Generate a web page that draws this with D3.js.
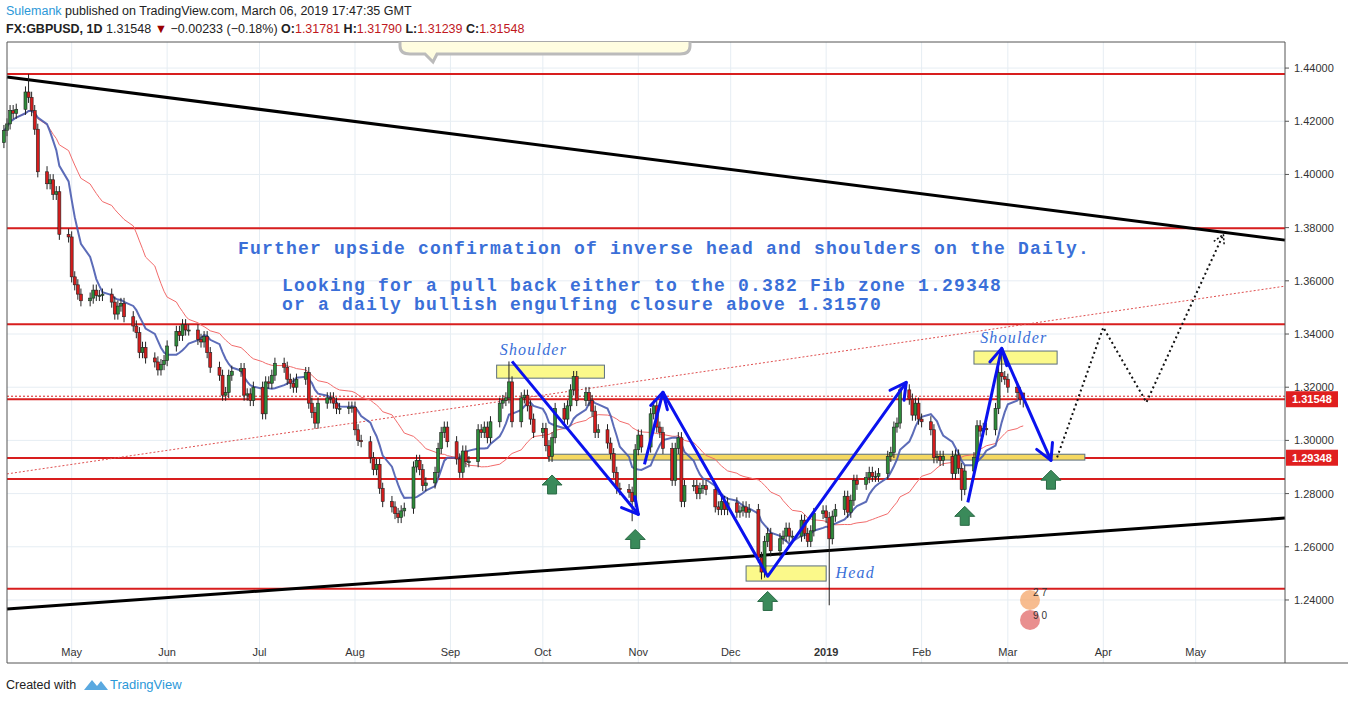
<!DOCTYPE html>
<html><head><meta charset="utf-8">
<script src="https://cdn.jsdelivr.net/npm/d3@7"></script>
<style>body{margin:0;background:#fff;font-family:"Liberation Sans",Arial,sans-serif}</style>
</head><body><svg id="c" width="1348" height="701"></svg>
<script>
// ---- data ----
const startDate = "2018-04-09";
const closes = [
1.4165,1.4190,1.4240,1.4230,1.4245, 1.4310,1.4290,1.4240,1.4170,1.4010,
1.3965,1.3980,1.3925,1.3935,1.3775, 1.3765,1.3615,1.3585,1.3550,1.3525,
1.3535,1.3565,1.3545,1.3545,1.3550, 1.3520,1.3475,1.3505,1.3515,1.3465,
1.3430,1.3405,1.3330,1.3350,1.3310, 1.3295,1.3265,1.3285,1.3300,1.3355,
1.3410,1.3395,1.3435,1.3415,1.3415, 1.3380,1.3370,1.3390,1.3330,1.3275,
1.3245,1.3170,1.3180,1.3245,1.3260, 1.3270,1.3170,1.3175,1.3150,1.3200,
1.3100,1.3220,1.3215,1.3245,1.3290, 1.3275,1.3230,1.3215,1.3200,1.3230,
1.3255,1.3140,1.3105,1.3065,1.3140, 1.3160,1.3160,1.3140,1.3120,1.3120,
1.3125,1.3125,1.3040,1.3000,1.2995, 1.2935,1.2890,1.2910,1.2820,1.2770,
1.2750,1.2725,1.2710,1.2735,1.2745, 1.2900,1.2925,1.2890,1.2830,1.2840,
1.2880,1.2970,1.3030,1.3050,1.2995, 1.2930,1.2880,1.2960,1.2920,1.2920,
1.3040,1.3030,1.3050,1.3010,1.3070, 1.3140,1.3150,1.3160,1.3220,1.3070,
1.3160,1.3170,1.3130,1.3080,1.3030, 1.3045,1.2980,1.2940,1.3010,1.3120,
1.3080,1.3130,1.3190,1.3240,1.3150, 1.3180,1.3150,1.3110,1.3030,1.3040,
1.2990,1.2950,1.2880,1.2820,1.2815, 1.2805,1.2770,1.2965,1.3020,1.2975,
1.3100,1.3130,1.3050,1.3030,1.2970, 1.2850,1.2970,1.3010,1.2770,1.2830,
1.2830,1.2800,1.2820,1.2830,1.2815, 1.2750,1.2740,1.2770,1.2740,1.2765,
1.2730,1.2735,1.2750,1.2730,1.2740, 1.2560,1.2505,1.2620,1.2650,1.2585,
1.2630,1.2640,1.2670,1.2640,1.2640, 1.2700,1.2650,1.2620,1.2660,1.2725,
1.2735,1.2710,1.2630,1.2715,1.2740, 1.2790,1.2730,1.2775,1.2850,1.2835,
1.2860,1.2880,1.2865,1.2865,1.2875, 1.2940,1.2955,1.3050,1.3065,1.3190,
1.3155,1.3095,1.3140,1.3080,1.3070, 1.3040,1.2935,1.2940,1.2925,1.2940,
1.2875,1.2945,1.2895,1.2815,1.2885, 1.2935,1.3055,1.3035,1.3045,1.3040,
1.3120,1.3255,1.3240,1.3230,1.3200, 1.3180,1.3155,1.31548];
const firstOpen = 1.4120;
const wickSize = 0.0035;
const extremes = {"2018-04-17":[1.4377,null],"2018-09-20":[1.3297,null],"2019-01-02":[null,1.2380],
  "2018-12-11":[null,1.2477],"2019-02-27":[1.3350,null],"2018-10-30":[null,1.2696],"2019-02-14":[null,1.2773]};
const hLevels = [1.4378,1.3798,1.3437,1.3155,1.2934,1.2855,1.2442];
const yTicks = [1.44,1.42,1.40,1.38,1.36,1.34,1.32,1.30,1.28,1.26,1.24];
const monthTicks = [["2018-05-01","May"],["2018-06-01","Jun"],["2018-07-01","Jul"],["2018-08-01","Aug"],["2018-09-01","Sep"],["2018-10-01","Oct"],["2018-11-01","Nov"],["2018-12-01","Dec"],["2019-01-01","2019"],["2019-02-01","Feb"],["2019-03-01","Mar"],["2019-04-01","Apr"],["2019-05-01","May"]];
const trendTop = [["2018-04-10",1.4366],["2019-05-30",1.3753]];
const trendBottom = [["2018-04-10",1.2366],["2019-05-30",1.2708]];
const dottedRed = [["2018-04-10",1.2874],["2019-05-30",1.3580]];
const boxes = [["2018-09-16","2018-10-21",1.3283,1.3234],["2018-12-06","2019-01-01",1.2528,1.2471],["2019-02-18","2019-03-17",1.3336,1.3287]];
const fibBand = ["2018-10-03","2019-03-26",1.2948,1.2926];
const arrowsUp = [["2018-10-04",1.2870],["2018-10-31",1.2665],["2018-12-13",1.2432],["2019-02-15",1.2752],["2019-03-15",1.2888]];
const zig1 = [["2018-09-21",1.3297],["2018-11-01",1.2722]];
const zig2 = [["2018-11-03",1.2910],["2018-11-09",1.3181],["2018-12-13",1.2489],["2019-01-27",1.3218]];
const zig3 = [["2019-02-16",1.2767],["2019-02-27",1.3346],["2019-03-15",1.2925]];
const projection = [["2019-03-17",1.2936],["2019-04-01",1.3425],["2019-04-15",1.3143],["2019-05-10",1.3775]];

// ---- setup ----
const svg = d3.select("#c");
const L=7,R=1285,T=42,B=663;
const x = d3.scaleTime().domain([new Date("2018-04-10"),new Date("2019-05-30")]).range([L,R]);
const y = d3.scaleLinear().domain([1.2163,1.4498]).range([B,T]);
const P = d=>new Date(d+"T00:00:00");
const pt = ([d,v])=>[x(P(d)),y(v)];

const candles=[]; let dd=P(startDate); let prev=firstOpen;
for(const c of closes){
  while(dd.getDay()===0||dd.getDay()===6) dd=d3.timeDay.offset(dd,1);
  const key=d3.timeFormat("%Y-%m-%d")(dd);
  let hi=Math.max(prev,c)+wickSize*0.6, lo=Math.min(prev,c)-wickSize*0.6;
  if(extremes[key]){ if(extremes[key][0]) hi=extremes[key][0]; if(extremes[key][1]) lo=extremes[key][1]; }
  candles.push({d:dd,o:prev,c,h:hi,l:lo}); prev=c; dd=d3.timeDay.offset(dd,1);
}
candles[candles.length-1].o=1.31781; candles[candles.length-1].h=1.31790; candles[candles.length-1].l=1.31239;

const g=svg.append("g");
g.append("rect").attr("x",L).attr("y",T).attr("width",R-L).attr("height",B-T).attr("fill","#fff");
g.selectAll(".hg").data(yTicks).join("line").attr("x1",L).attr("x2",R).attr("y1",d=>y(d)).attr("y2",d=>y(d)).attr("stroke","#e6edf3");
g.selectAll(".vg").data(monthTicks).join("line").attr("x1",d=>x(P(d[0]))).attr("x2",d=>x(P(d[0]))).attr("y1",T).attr("y2",B).attr("stroke","#e6edf3");
svg.append("line").attr("x1",L).attr("x2",L).attr("y1",T).attr("y2",B).attr("stroke","#555");
svg.append("line").attr("x1",R).attr("x2",R).attr("y1",T).attr("y2",B).attr("stroke","#555");
svg.append("line").attr("x1",L).attr("x2",1348).attr("y1",B).attr("y2",B).attr("stroke","#555");
svg.append("line").attr("x1",L).attr("x2",R).attr("y1",T).attr("y2",T).attr("stroke","#555");

svg.append("path").attr("d","M400,42 L400,46 Q400,54 410,54 L425,54 L433,62 L437,54 L680,54 Q690,54 690,46 L690,42").attr("fill","#fffde0").attr("stroke","#bbb").attr("stroke-width",3);

g.selectAll(".hl").data(hLevels).join("line").attr("x1",L).attr("x2",R).attr("y1",d=>y(d)).attr("y2",d=>y(d)).attr("stroke","#d81e1e").attr("stroke-width",2);
g.append("line").attr("x1",L).attr("x2",R).attr("y1",y(1.31548)-3).attr("y2",y(1.31548)-3).attr("stroke","#d81e1e").attr("stroke-dasharray","2,2");
const line=d3.line();
g.append("path").attr("d",line(dottedRed.map(pt))).attr("stroke","#e05050").attr("stroke-dasharray","2,2").attr("fill","none");
g.append("path").attr("d",line(trendTop.map(pt))).attr("stroke","#000").attr("stroke-width",3).attr("fill","none");
g.append("path").attr("d",line(trendBottom.map(pt))).attr("stroke","#000").attr("stroke-width",3).attr("fill","none");

g.append("rect").attr("x",x(P(fibBand[0]))).attr("width",x(P(fibBand[1]))-x(P(fibBand[0]))).attr("y",y(fibBand[2])).attr("height",y(fibBand[3])-y(fibBand[2])).attr("fill","#f5d860").attr("stroke","#5a6e7e");
g.selectAll(".bx").data(boxes).join("rect").attr("x",d=>x(P(d[0]))).attr("width",d=>x(P(d[1]))-x(P(d[0]))).attr("y",d=>y(d[2])).attr("height",d=>y(d[3])-y(d[2])).attr("fill","#fbf98a").attr("stroke","#5a6e7e");

function sma(n){return candles.map((c,i)=>{const s=candles.slice(Math.max(0,i-n+1),i+1);return [x(c.d),y(d3.mean(s,e=>e.c))];});}
g.append("path").attr("d",line(sma(30))).attr("stroke","#f26b6b").attr("fill","none").attr("stroke-width",1);
g.append("path").attr("d",line(sma(9))).attr("stroke","#4a5cb0").attr("fill","none").attr("stroke-width",2).attr("opacity",0.9);

const cg=g.append("g");
cg.selectAll("line").data(candles).join("line").attr("x1",d=>x(d.d)).attr("x2",d=>x(d.d)).attr("y1",d=>y(d.h)).attr("y2",d=>y(d.l)).attr("stroke","#222");
cg.selectAll("rect").data(candles).join("rect").attr("x",d=>x(d.d)-1.5).attr("width",3).attr("y",d=>y(Math.max(d.o,d.c))).attr("height",d=>Math.max(1,Math.abs(y(d.o)-y(d.c)))).attr("fill",d=>d.c>=d.o?"#2e8b3a":"#d41c1c").attr("stroke","#222").attr("stroke-width",0.6);

function arrowPath(pts,w){
  g.append("path").attr("d",line(pts.map(pt))).attr("stroke","#0a12ee").attr("stroke-width",w).attr("fill","none").attr("stroke-linejoin","round");
  const a=pt(pts[pts.length-2]),b=pt(pts[pts.length-1]);const ang=Math.atan2(b[1]-a[1],b[0]-a[0]);
  [0.5,-0.5].forEach(s=>g.append("line").attr("x1",b[0]).attr("y1",b[1]).attr("x2",b[0]-18*Math.cos(ang+s)).attr("y2",b[1]-18*Math.sin(ang+s)).attr("stroke","#0a12ee").attr("stroke-width",w).attr("stroke-linecap","round"));
}
arrowPath(zig1,3);
arrowPath(zig2.slice(0,2),3); arrowPath(zig2.slice(1),3);
arrowPath(zig3.slice(0,2),3); arrowPath(zig3.slice(1),3);
g.append("path").attr("d",line(projection.map(pt))).attr("stroke","#111").attr("stroke-width",2).attr("stroke-dasharray","2,3").attr("fill","none");
{const a=pt(projection[2]),b=pt(projection[3]);const ang=Math.atan2(b[1]-a[1],b[0]-a[0]);
 g.append("path").attr("d",`M${b[0]-12*Math.cos(ang+0.5)},${b[1]-12*Math.sin(ang+0.5)}L${b[0]},${b[1]}L${b[0]-12*Math.cos(ang-0.5)},${b[1]-12*Math.sin(ang-0.5)}`).attr("stroke","#111").attr("stroke-width",1.5).attr("stroke-dasharray","2,2").attr("fill","none");}

g.selectAll(".ga").data(arrowsUp).join("path").attr("transform",d=>{const p=pt(d);return `translate(${p[0]},${p[1]})`;})
 .attr("d","M0,0 L10,10 L4.5,10 L4.5,19 L-4.5,19 L-4.5,10 L-10,10 Z").attr("fill","#3a8a5a").attr("stroke","#2a6a45");

const mono='"Liberation Mono","DejaVu Sans Mono",monospace';
const tc="#3a6fd8";
const big=(txt,xx,yy,anchor)=>svg.append("text").attr("x",xx).attr("y",yy).attr("text-anchor",anchor).attr("font-family",mono).attr("font-size",18).attr("font-weight","bold").attr("letter-spacing",1.2).attr("fill",tc).text(txt);
big("Further upside confirmation of inverse head and shoulders on the Daily.",664,254,"middle");
big("Looking for a pull back either to the 0.382 Fib zone 1.29348",282,291,"start");
big("or a daily bullish engulfing closure above 1.31570",282,310,"start");
[["2018-09-17",1.3321,"Shoulder"],["2019-01-04",1.2483,"Head"],["2019-02-20",1.3366,"Shoulder"]].forEach(t=>{
 const p=pt(t); svg.append("text").attr("x",p[0]).attr("y",p[1]).attr("font-family",'"Liberation Serif",serif').attr("font-style","italic").attr("font-size",16).attr("fill",tc).attr("letter-spacing",1.2).text(t[2]);});

svg.append("circle").attr("cx",1030).attr("cy",600).attr("r",10).attr("fill","#f3a060").attr("opacity",0.7);
svg.append("circle").attr("cx",1030).attr("cy",620).attr("r",10).attr("fill","#e06060").attr("opacity",0.7);
svg.append("text").attr("x",1040).attr("y",596).attr("font-size",10).attr("text-anchor","middle").attr("fill","#333").text("2 7");
svg.append("text").attr("x",1040).attr("y",619).attr("font-size",10).attr("text-anchor","middle").attr("fill","#333").text("9 0");

svg.selectAll(".yt").data(yTicks).join("text").attr("x",1294).attr("y",d=>y(d)+4).attr("font-size",11).attr("fill","#333").text(d=>d.toFixed(5));
svg.selectAll(".ytk").data(yTicks).join("line").attr("x1",R).attr("x2",R+4).attr("y1",d=>y(d)).attr("y2",d=>y(d)).attr("stroke","#555");
[[1.31548,"1.31548"],[1.29348,"1.29348"]].forEach(([v,t])=>{
 svg.append("rect").attr("x",R+1).attr("y",y(v)-8).attr("width",52).attr("height",16).attr("fill","#e01f1f");
 svg.append("text").attr("x",1292).attr("y",y(v)+4).attr("font-size",11).attr("font-weight","bold").attr("fill","#fff").text(t);});

svg.selectAll(".mt").data(monthTicks).join("text").attr("x",d=>x(P(d[0]))).attr("y",656).attr("text-anchor","middle").attr("font-size",11).attr("fill","#333").attr("font-weight",d=>d[1]==="2019"?"bold":"normal").text(d=>d[1]);

const h1=svg.append("text").attr("x",6).attr("y",15).attr("font-size",12.5);
h1.append("tspan").attr("fill","#2c98d8").text("Sulemank");
h1.append("tspan").attr("fill","#222").text(" published on TradingView.com, March 06, 2019 17:47:35 GMT");
const h2=svg.append("text").attr("x",6).attr("y",33).attr("font-size",12.5).attr("fill","#222");
h2.append("tspan").attr("font-weight","bold").text("FX:GBPUSD, 1D ");
h2.append("tspan").text("1.31548 ");
h2.append("tspan").attr("fill","#9a0000").text("▼");
h2.append("tspan").text(" −0.00233 (−0.18%) ");
[["O:","1.31781"],["H:","1.31790"],["L:","1.31239"],["C:","1.31548"]].forEach(([a,b],i)=>{
 h2.append("tspan").attr("font-weight","bold").text(a);
 h2.append("tspan").attr("fill","#c0181d").text(b+(i<3?" ":""));});

svg.append("text").attr("x",6).attr("y",689).attr("font-size",12.5).attr("fill","#222").text("Created with");
svg.append("path").attr("d","M84,690 L92,680 L97,686 L101,681 L108,690 Z").attr("fill","#5aa9e0");
svg.append("text").attr("x",110).attr("y",689).attr("font-size",13).attr("fill","#2c98d8").text("TradingView");
</script></body></html>
